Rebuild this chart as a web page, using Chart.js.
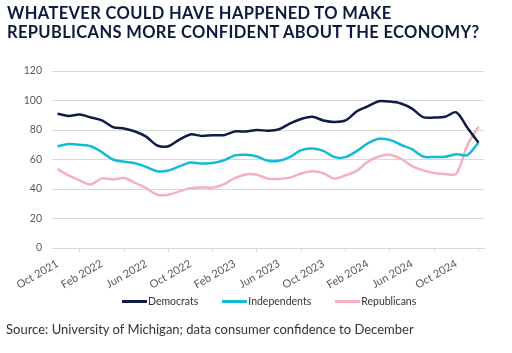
<!DOCTYPE html>
<html>
<head>
<meta charset="utf-8">
<script src="https://cdn.jsdelivr.net/npm/chart.js@4"></script>
<style>
  body { margin: 0; background: #fff; }
  #wrap { position: relative; width: 512px; height: 353px; overflow: hidden; }
  #title {
    position: absolute; left: 7px; top: 4px;
    font: bold 16.5px Lato, sans-serif; line-height: 18.5px;
    color: #0c1a3d; letter-spacing: 0.35px;
  }
  #legend {
    position: absolute; left: 122px; top: 294px;
    display: flex; gap: 24px;
    font: 10.5px Lato, sans-serif; color: #333; line-height: 14px;
  }
  #legend .item { display: flex; align-items: center; }
  #legend .swatch { width: 25px; height: 3px; margin-right: 1px; }
  #source {
    position: absolute; left: 6px; top: 321px;
    font: 13px Lato, sans-serif; color: #333;
  }
  #chart { position: absolute; left: 0; top: 0; }
</style>
</head>
<body>
<div id="wrap">
  <canvas id="chart" width="512" height="353"></canvas>
  <div id="title">WHATEVER COULD HAVE HAPPENED TO MAKE<br>REPUBLICANS MORE CONFIDENT ABOUT THE ECONOMY?</div>
  <div id="legend"></div>
  <div id="source">Source: University of Michigan; data consumer confidence to December</div>
</div>
<script>
// monthly, Oct 2021 - Dec 2024
const months = ['Jan', 'Feb', 'Mar', 'Apr', 'May', 'Jun', 'Jul', 'Aug', 'Sep', 'Oct', 'Nov', 'Dec'];
const labels = [];
for (let y = 2021; y <= 2024; y++) {
  months.forEach((m, i) => {
    if (y === 2021 && i < 9) return;
    labels.push(m + ' ' + y);
  });
}

const democrats = [91, 89.5, 90.5, 88.5, 86.5, 82, 81, 79, 75.5, 69.5, 69, 73.5, 77, 76, 76.5, 76.5, 79, 79, 80,
  79.5, 80.5, 84.5, 87.5, 89, 86.5, 85.5, 86.5, 92.5, 96, 99.5, 99.3, 98, 94.5, 88.7, 88.4, 89, 92, 81.5, 71.5];
const independents = [69, 70.5, 70, 69, 65, 60, 58.5, 57.5, 55, 52, 52.5, 55.3, 58, 57.3, 57.6, 59.4, 62.8, 63.2, 62,
  59.1, 59.1, 61.8, 66.4, 67.5, 65.9, 61.6, 61.6, 65.7, 70.9, 74, 73.3, 70, 67, 62, 61.7, 61.8, 63.6, 63, 71.5];
const republicans = [53.5, 49.2, 45.8, 43.1, 47.2, 46.5, 47.4, 44.2, 40.6, 36.1, 36.1, 38.4, 40.6, 41.1, 40.9, 43.1, 47.4, 49.9, 49.6,
  47, 46.8, 47.7, 50.5, 52, 50.7, 47, 49.3, 52.3, 58.4, 62, 63.3, 60.5, 55.5, 52.6, 50.8, 50.1, 50.4, 69.7, 82.2];

const yTicks = [0, 20, 40, 60, 80, 100, 120];

const gridColor = '#d9d9d9';
const tickColor = '#595959';

function series(label, data, color) {
  return {
    label: label,
    data: data,
    borderColor: color,
    backgroundColor: color,
    borderWidth: 2.5,
    pointRadius: 0,
    tension: 0.3
  };
}

const chart = new Chart(document.getElementById('chart'), {
  type: 'line',
  data: {
    labels: labels,
    datasets: [
      series('Democrats', democrats, '#0f1c45'),
      series('Independents', independents, '#12bcd6'),
      series('Republicans', republicans, '#f5b1bd')
    ]
  },
  options: {
    responsive: false,
    animation: false,
    layout: { padding: { top: 71, right: 28, bottom: 61, left: 0 } },
    scales: {
      x: {
        offset: true,
        grid: {
          offset: true,
          drawOnChartArea: false,
          color: gridColor,
          tickLength: 4
        },
        border: { color: gridColor },
        ticks: {
          autoSkip: false,
          maxRotation: 30,
          minRotation: 30,
          padding: 5,
          color: tickColor,
          font: { family: 'Lato, sans-serif', size: 11 },
          callback: function (v, i) {
            return i % 4 === 0 ? labels[i] : null;
          }
        },
        // tall enough that the rotated labels are not clipped
        afterFit: function (scale) { scale.height = 44; }
      },
      y: {
        min: 0,
        max: 120,
        afterBuildTicks: function (scale) {
          scale.ticks = yTicks.map(v => ({ value: v }));
        },
        grid: { color: gridColor, drawTicks: false },
        border: { display: false },
        ticks: {
          padding: 10,
          color: tickColor,
          font: { family: 'Lato, sans-serif', size: 10.5 }
        },
        afterFit: function (scale) { scale.width = 52; }
      }
    },
    plugins: {
      legend: { display: false },
      tooltip: { enabled: false }
    }
  }
});

// legend built from the chart's datasets
const legendEl = document.getElementById('legend');
chart.data.datasets.forEach(ds => {
  const item = document.createElement('div');
  item.className = 'item';
  const sw = document.createElement('span');
  sw.className = 'swatch';
  sw.style.background = ds.borderColor;
  const txt = document.createElement('span');
  txt.textContent = ds.label;
  item.appendChild(sw);
  item.appendChild(txt);
  legendEl.appendChild(item);
});
</script>
</body>
</html>
